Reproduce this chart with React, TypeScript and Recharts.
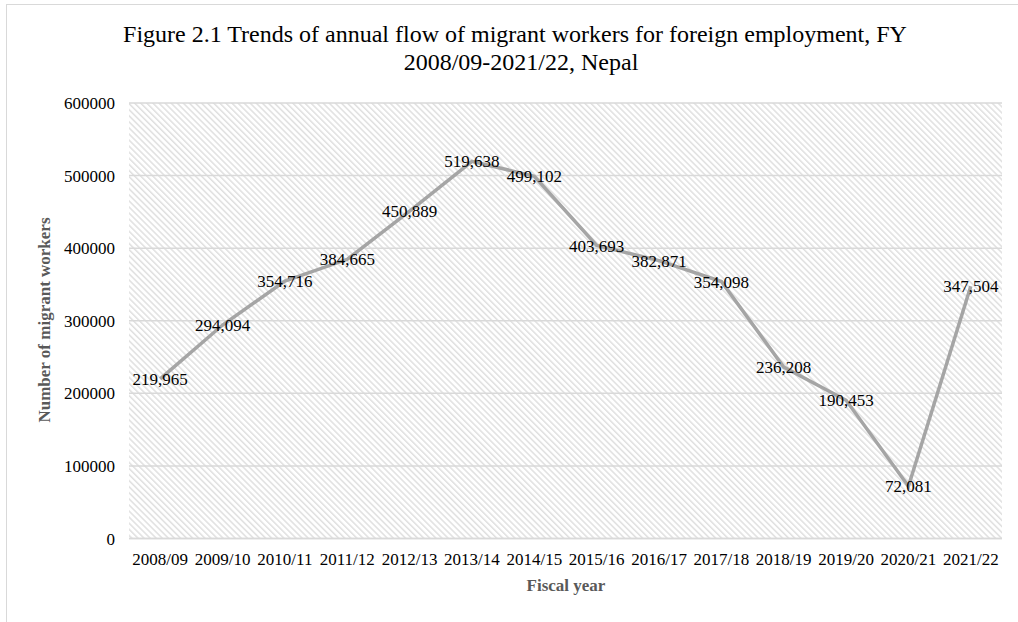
import React from "react";
import { LineChart, Line, XAxis, YAxis, CartesianGrid, LabelList } from "recharts";

const fiscalYears = [
  "2008/09", "2009/10", "2010/11", "2011/12", "2012/13", "2013/14", "2014/15",
  "2015/16", "2016/17", "2017/18", "2018/19", "2019/20", "2020/21", "2021/22",
];
const migrantWorkers = [
  219965, 294094, 354716, 384665, 450889, 519638, 499102,
  403693, 382871, 354098, 236208, 190453, 72081, 347504,
];
const yTicks = [0, 100000, 200000, 300000, 400000, 500000, 600000];

const data = fiscalYears.map((fy, i) => ({ fy, workers: migrantWorkers[i] }));

const serif = "'Liberation Serif', 'Times New Roman', serif";

export default function App() {
  return (
    <div style={{ position: "absolute", left: 0, top: 0, width: 1018, height: 622, overflow: "hidden", background: "#fff", fontFamily: serif }}>
      <svg width={0} height={0} style={{ position: "absolute" }}>
        <defs>
          <pattern id="hatch" patternUnits="userSpaceOnUse" width={4.3} height={4.3} patternTransform="rotate(-45)">
            <rect x={0} y={0} width={4.3} height={4.3} fill="#ffffff" />
            <rect x={0} y={0} width={1.5} height={4.3} fill="#e0e0e0" />
          </pattern>
        </defs>
      </svg>
      <div style={{ position: "absolute", left: 6, top: 4, width: 1030, height: 640, border: "1px solid #d9d9d9" }} />
      <div style={{ position: "absolute", left: 15, width: 1000, top: 20, textAlign: "center", fontSize: 24, lineHeight: "28px", color: "#000" }}>
        Figure 2.1 Trends of annual flow of migrant workers for foreign employment, FY
        <br />
        <span style={{ position: "relative", left: 6 }}>2008/09-2021/22, Nepal</span>
      </div>
      <div style={{ position: "absolute", left: 0, top: 0 }}>
        <LineChart width={1018} height={622} data={data} margin={{ top: 103, right: 16, left: 0, bottom: 0 }}>
          <CartesianGrid vertical={false} stroke="#d9d9d9" strokeWidth={1.5} fill="url(#hatch)" fillOpacity={1} />
          <XAxis
            dataKey="fy"
            height={83.5}
            padding={{ left: 31.2, right: 31.2 }}
            tickLine={false}
            tickSize={0}
            tickMargin={14.5}
            axisLine={{ stroke: "#d9d9d9", strokeWidth: 1.5 }}
            tick={{ fill: "#000", fontSize: 17, fontFamily: serif }}
            interval={0}
          />
          <YAxis
            width={129}
            domain={[0, 600000]}
            ticks={yTicks}
            tickLine={false}
            tickSize={0}
            tickMargin={14}
            axisLine={false}
            tick={{ fill: "#000", fontSize: 17, fontFamily: serif }}
          />
          <Line
            type="linear"
            dataKey="workers"
            stroke="#a5a5a5"
            strokeWidth={3.5}
            dot={false}
            isAnimationActive={false}
          >
            <LabelList
              dataKey="workers"
              position="center"
              formatter={(v: any) => Number(v).toLocaleString("en-US")}
              style={{ fill: "#000", fontSize: 17, fontFamily: serif }}
            />
          </Line>
        </LineChart>
      </div>
      <div style={{ position: "absolute", left: 466, width: 200, top: 576, textAlign: "center", fontSize: 17, fontWeight: "bold", color: "#595959" }}>
        Fiscal year
      </div>
      <div
        style={{
          position: "absolute",
          left: 45,
          top: 320,
          transform: "translate(-50%, -50%) rotate(-90deg)",
          whiteSpace: "nowrap",
          fontSize: 17,
          fontWeight: "bold",
          color: "#595959",
        }}
      >
        Number of migrant workers
      </div>
    </div>
  );
}
